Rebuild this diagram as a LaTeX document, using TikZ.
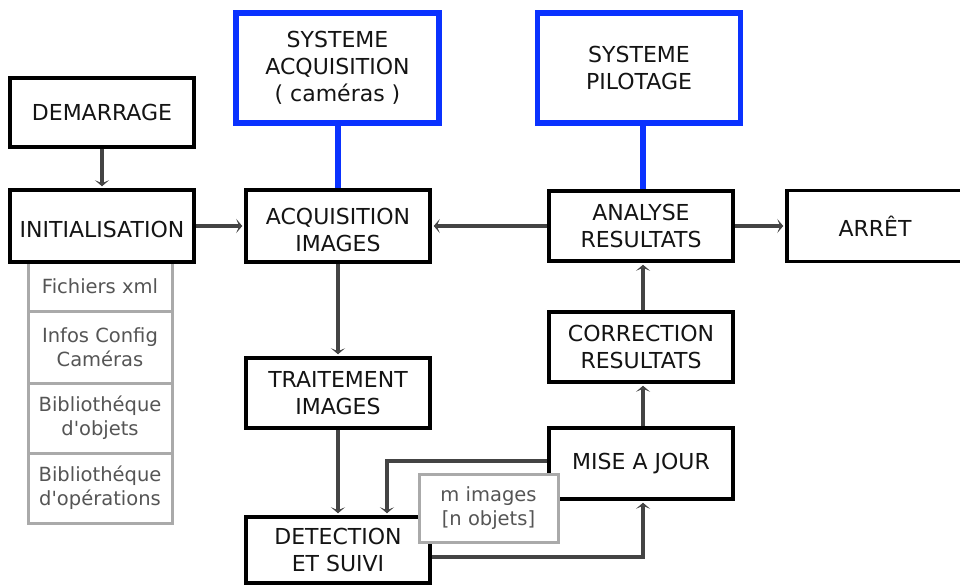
\documentclass[tikz,border=0pt]{standalone}
\usepackage{fontspec}
\setmainfont{DejaVu Sans}
\usetikzlibrary{arrows.meta}
\definecolor{txt}{RGB}{20,20,20}
\definecolor{celltxt}{RGB}{85,85,85}
\definecolor{cellgray}{RGB}{170,170,170}
\definecolor{conngray}{RGB}{68,68,68}
\definecolor{sysblue}{RGB}{10,50,255}
\newcommand{\lowstrut}{\rule{0pt}{24pt}}
\tikzset{
  box/.style={draw=black, line width=3.5pt, fill=white, minimum width=184pt, minimum height=70pt,
    inner sep=0pt, align=center, text=txt, font=\fontsize{22}{27}\selectfont},
  sys/.style={box, draw=sysblue, line width=5.5pt, minimum width=203pt, minimum height=110pt},
  cell/.style={draw=cellgray, line width=3pt, fill=white, minimum width=144pt, inner sep=0pt,
    align=center, text=celltxt, font=\fontsize{19.5}{24}\selectfont},
  conn/.style={draw=conngray, line width=4pt, shorten >=2pt,
    -{Stealth[length=6pt,width=14pt,inset=3pt]}},
  bluelink/.style={draw=sysblue, line width=6pt},
}
\begin{document}
\begin{tikzpicture}[x=1pt,y=-1pt]
\useasboundingbox (0,0) rectangle (960,586);
% gray stack
\node[cell, minimum height=49pt] (c1) at (100,286.5) {Fichiers xml};
\node[cell, minimum height=72pt] (c2) at (100,347) {Infos Config\\Caméras};
\node[cell, minimum height=70pt] (c3) at (100,418) {Bibliothéque\\d\textquotesingle objets};
\node[cell, minimum height=70pt] (c4) at (100,488) {Bibliothéque\\d\textquotesingle opérations};
% boxes
\node[box, minimum height=69pt] (dem) at (102,112.5) {DEMARRAGE};
\node[box, minimum height=72pt] (init) at (102,226) {\lowstrut INITIALISATION};
\node[sys] (sysa) at (337.5,68) {SYSTEME\\ACQUISITION\\( caméras )};
\node[sys] (sysp) at (639,68) {SYSTEME\\PILOTAGE};
\node[box, minimum height=72pt] (acq) at (338,226) {\lowstrut ACQUISITION\\IMAGES};
\node[box] (ana) at (641,226) {ANALYSE\\RESULTATS};
\node[box, minimum width=176pt, minimum height=71pt] (arret) at (875,226) {ARRÊT};
\node[box] (corr) at (641,347) {CORRECTION\\RESULTATS};
\node[box, minimum height=71pt] (mise) at (641,463.5) {MISE A JOUR};
\node[box] (trait) at (338,393) {TRAITEMENT\\IMAGES};
\node[box, minimum height=66pt] (det) at (338,550) {DETECTION\\ET SUIVI};
% connectors
\draw[bluelink] (acq.north |- sysa.south) -- (acq.north);
\draw[bluelink] ([xshift=2pt]ana.north |- sysp.south) -- ([xshift=2pt]ana.north);
\draw[conn] (dem) -- (init);
\draw[conn] (init) -- (acq);
\draw[conn] (ana) -- (acq);
\draw[conn] (ana) -- (arret);
\draw[conn] (acq) -- (trait);
\draw[conn] (trait) -- (det);
\draw[conn] ([xshift=2pt]mise.north) -- ([xshift=2pt]corr.south);
\draw[conn] ([xshift=2pt]corr.north) -- ([xshift=2pt]ana.south);
\coordinate (dtop) at ([xshift=49pt]det.north);
\draw[conn] ([yshift=3pt]mise.west) -| (dtop);
\draw[conn] ([yshift=-7pt]det.east) -| ([xshift=2pt]mise.south);
% label box
\node[cell, minimum width=139pt, minimum height=68pt] (mimg) at (488.5,508) {m images\\{[n objets]}};
\end{tikzpicture}
\end{document}
